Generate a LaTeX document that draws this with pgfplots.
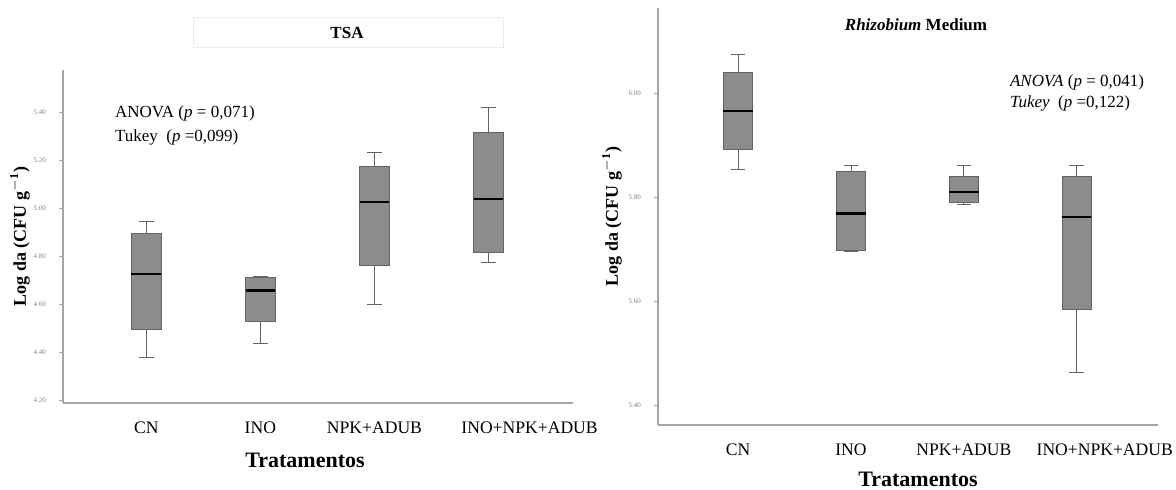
\documentclass[border=0pt]{standalone}
\usepackage{fontspec}
\setmainfont{Liberation Serif}
\usepackage{pgfplots}
\pgfplotsset{compat=1.18}
\usepgfplotslibrary{statistics}
\definecolor{boxfill}{RGB}{140,140,140}
\definecolor{boxline}{RGB}{100,100,100}
\definecolor{axisgray}{RGB}{165,165,165}
\pgfplotsset{
  mybox/.style={
    scale only axis, clip=false,
    axis x line*=bottom, axis y line*=left,
    axis line style={axisgray, line width=0.6pt},
    xtick={1,2,3,4},
    x tick style={draw=none},
    xticklabel style={font=\fontsize{8.8}{10}\selectfont, yshift=-4pt},
    y tick style={axisgray},
    major tick length=2pt, tick align=outside,
    yticklabel style={font=\fontsize{3.5}{4}\selectfont, text=gray, xshift=-3pt},
    yticklabel={\pgfmathprintnumber[fixed,fixed zerofill,precision=2,assume math mode=true]{\tick}},
    boxplot/draw direction=y,
    boxplot/box extend=0.26,
    boxplot/whisker extend=0.13,
    boxplot/every median/.style={black, line width=1.1pt},
  },
  bx/.style={fill=boxfill, draw=boxline, line width=0.5pt, solid, mark=none},
}
\begin{document}
\begin{tikzpicture}
\path[use as bounding box] (0,0) rectangle (588pt,244.5pt);
% Left panel
\draw[gray!15, line width=0.5pt] (96.5pt,221pt) rectangle (251.5pt,236pt);
\node[font=\bfseries\fontsize{8.5}{10}\selectfont] at (173.5pt,228pt) {TSA};
\begin{axis}[mybox, at={(31.5pt,43pt)}, anchor=south west,
  width=255pt, height=166.5pt,
  xmin=0.27, xmax=4.74, ymin=4.19, ymax=5.575,
  xticklabels={CN,INO,NPK+ADUB,\hspace*{41pt}INO+NPK+ADUB},
  ytick={4.2,4.4,4.6,4.8,5.0,5.2,5.4}]
\addplot[bx, boxplot prepared={draw position=1, lower whisker=4.380, lower quartile=4.496, median=4.725, upper quartile=4.895, upper whisker=4.943}] coordinates {};
\addplot[bx, boxplot prepared={draw position=2, lower whisker=4.436, lower quartile=4.529, median=4.658, upper quartile=4.710, upper whisker=4.717}] coordinates {};
\addplot[bx, boxplot prepared={draw position=3, lower whisker=4.599, lower quartile=4.763, median=5.025, upper quartile=5.175, upper whisker=5.233}] coordinates {};
\addplot[bx, boxplot prepared={draw position=4, lower whisker=4.774, lower quartile=4.818, median=5.038, upper quartile=5.317, upper whisker=5.420}] coordinates {};
\node[font=\bfseries\fontsize{11}{12}\selectfont] at ([xshift=-6.5pt,yshift=-28.5pt]axis description cs:0.5,0) {Tratamentos};
\node[font=\bfseries\fontsize{9}{10}\selectfont, rotate=90] at ([xshift=-21.5pt]axis description cs:0,0.5) {Log da (CFU g$^{\mathbf{-1}}$)};
\end{axis}
\node[font=\fontsize{8.5}{12}\selectfont, align=left, anchor=west] at (54pt,182pt)
  {ANOVA (\textit{p} = 0,071)\\Tukey~ (\textit{p} =0,099)};
% Right panel
\begin{axis}[mybox, at={(329pt,32pt)}, anchor=south west,
  width=250pt, height=208.5pt,
  xmin=0.29, xmax=4.72, ymin=5.3615, ymax=6.163,
  xticklabels={CN,INO,NPK+ADUB,\hspace*{28pt}INO+NPK+ADUB},
  ytick={5.4,5.6,5.8,6.0}]
\addplot[bx, boxplot prepared={draw position=1, lower whisker=5.853, lower quartile=5.892, median=5.965, upper quartile=6.039, upper whisker=6.073}] coordinates {};
\addplot[bx, boxplot prepared={draw position=2, lower whisker=5.695, lower quartile=5.697, median=5.768, upper quartile=5.849, upper whisker=5.860}] coordinates {};
\addplot[bx, boxplot prepared={draw position=3, lower whisker=5.785, lower quartile=5.789, median=5.810, upper quartile=5.840, upper whisker=5.860}] coordinates {};
\addplot[bx, boxplot prepared={draw position=4, lower whisker=5.462, lower quartile=5.584, median=5.762, upper quartile=5.839, upper whisker=5.860}] coordinates {};
\node[font=\bfseries\fontsize{11}{12}\selectfont] at ([xshift=5pt,yshift=-27pt]axis description cs:0.5,0) {Tratamentos};
\node[font=\bfseries\fontsize{9}{10}\selectfont, rotate=90] at ([xshift=-23pt]axis description cs:0,0.5) {Log da (CFU g$^{\mathbf{-1}}$)};
\end{axis}
\node[font=\bfseries\fontsize{8.5}{10}\selectfont] at (458pt,232pt) {\textit{Rhizobium} Medium};
\node[font=\fontsize{8.5}{10.5}\selectfont, align=left, anchor=west] at (501.5pt,198.25pt)
  {\textit{ANOVA} (\textit{p} = 0,041)\\\textit{Tukey}~ (\textit{p} =0,122)};
\end{tikzpicture}
\end{document}
